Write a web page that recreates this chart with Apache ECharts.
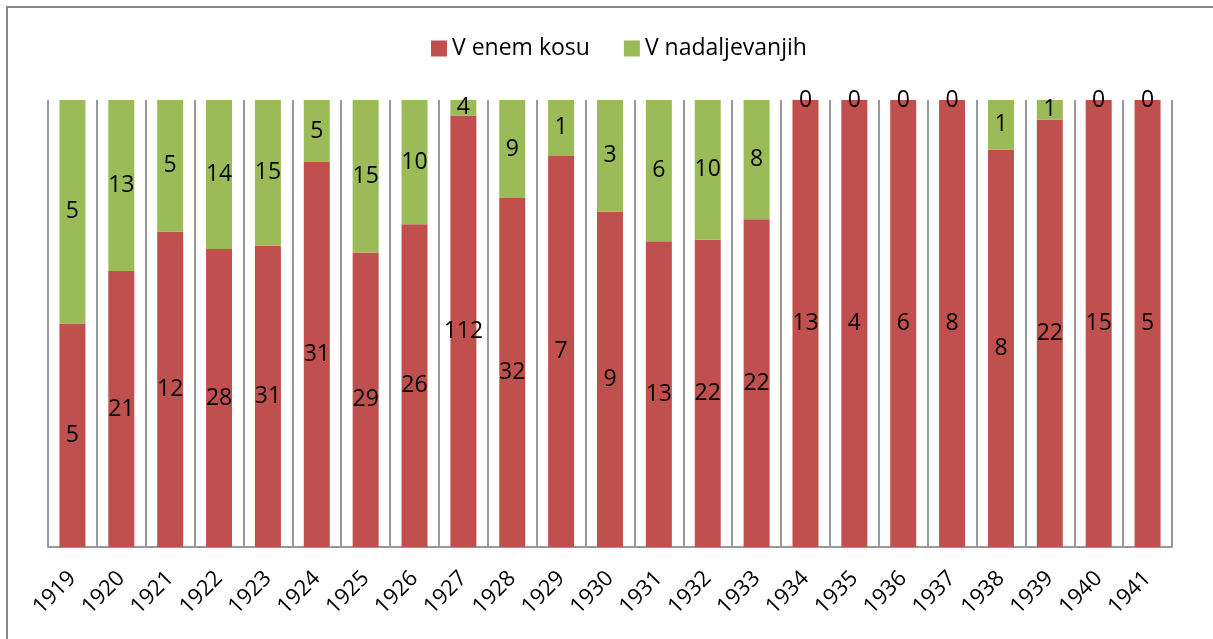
<!DOCTYPE html>
<html>
<head>
<meta charset="utf-8">
<script src="https://cdn.jsdelivr.net/npm/echarts@6/dist/echarts.min.js"></script>
<style>
  html, body { margin: 0; padding: 0; background: #fff; }
  #chart { width: 1213px; height: 639px; }
</style>
</head>
<body>
<div id="chart"></div>
<script>
const years = ['1919','1920','1921','1922','1923','1924','1925','1926','1927','1928','1929','1930',
  '1931','1932','1933','1934','1935','1936','1937','1938','1939','1940','1941'];
const enemKosu = [5,21,12,28,31,31,29,26,112,32,7,9,13,22,22,13,4,6,8,8,22,15,5];
const nadaljevanjih = [5,13,5,14,15,5,15,10,4,9,1,3,6,10,8,0,0,0,0,1,1,0,0];

// 100% stacked: turn counts into shares, keep counts for labels
function share(arr, i) {
  const total = enemKosu[i] + nadaljevanjih[i];
  return total ? arr[i] / total * 100 : 0;
}
const redPct = enemKosu.map((v, i) => ({ value: share(enemKosu, i), raw: v }));
const greenPct = nadaljevanjih.map((v, i) => ({ value: share(nadaljevanjih, i), raw: v }));

const labelStyle = {
  show: true,
  position: 'inside',
  color: '#000',
  fontSize: 23,
  fontFamily: 'Open Sans',
  formatter: p => p.data.raw
};

const chart = echarts.init(document.getElementById('chart'));
chart.setOption({
  animation: false,
  backgroundColor: '#fff',
  textStyle: { fontFamily: 'Open Sans' },
  graphic: [{
    type: 'rect',
    shape: { x: 7, y: 7, width: 1400, height: 800 },
    style: { fill: 'none', stroke: '#888', lineWidth: 2 },
    silent: true
  }],
  legend: {
    top: 32,
    left: 426,
    itemWidth: 16,
    itemHeight: 16,
    itemGap: 34,
    icon: 'rect',
    textStyle: { fontSize: 23, color: '#000', fontFamily: 'Open Sans' },
    data: ['V enem kosu', 'V nadaljevanjih']
  },
  grid: { left: 48, right: 41, top: 100, bottom: 92 },
  xAxis: {
    type: 'category',
    data: years,
    boundaryGap: true,
    axisLine: { lineStyle: { color: '#999', width: 2 } },
    axisTick: { show: false },
    splitLine: { show: true, interval: 0, lineStyle: { color: '#999', width: 2 } },
    axisLabel: {
      interval: 0,
      rotate: 45,
      margin: 28,
      fontSize: 22,
      color: '#000',
      fontFamily: 'Open Sans'
    }
  },
  yAxis: {
    type: 'value',
    min: 0,
    max: 100,
    show: false,
    splitLine: { show: false }
  },
  series: [
    {
      name: 'V enem kosu',
      type: 'bar',
      stack: 'all',
      barWidth: 26,
      itemStyle: { color: '#C0504D' },
      label: labelStyle,
      data: redPct
    },
    {
      name: 'V nadaljevanjih',
      type: 'bar',
      stack: 'all',
      barWidth: 26,
      itemStyle: { color: '#9BBB59' },
      label: labelStyle,
      data: greenPct
    }
  ]
});
</script>
</body>
</html>
